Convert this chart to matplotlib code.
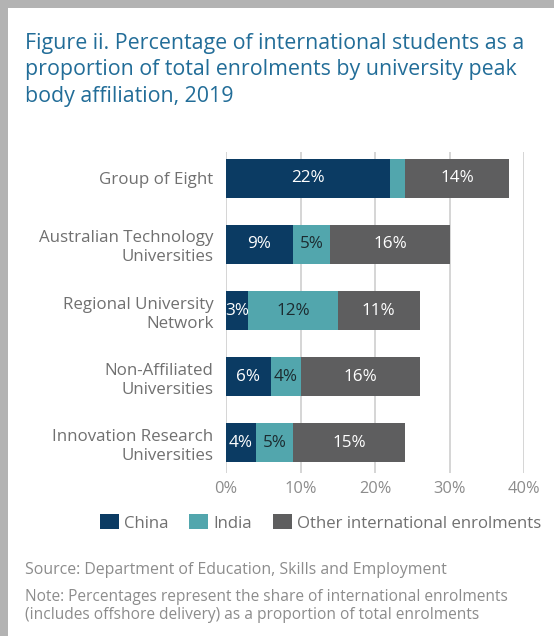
import matplotlib
matplotlib.use("Agg")
import matplotlib.pyplot as plt
from matplotlib.patches import Rectangle
import numpy as np

categories = ["Group of Eight", "Australian Technology\nUniversities", "Regional University\nNetwork",
              "Non-Affiliated\nUniversities", "Innovation Research\nUniversities"]
china = [22, 9, 3, 6, 4]
india = [2, 5, 12, 4, 5]
other = [14, 16, 11, 16, 15]
show_label_china = [True, True, True, True, True]
show_label_india = [False, True, True, True, True]
show_label_other = [True, True, True, True, True]
xticks = [0, 10, 20, 30, 40]
xticklabels = ["0%", "10%", "20%", "30%", "40%"]
series_names = ["China", "India", "Other international enrolments"]

C_CHINA = "#0b3b63"
C_INDIA = "#52a6ad"
C_OTHER = "#5e5e5f"
FONT = "Open Sans"

W, H = 554, 636
fig = plt.figure(figsize=(W / 100, H / 100), dpi=100)
fig.patch.set_facecolor("#b3b3b3")
fig.add_artist(Rectangle((8 / W, 0), 1 - 8 / W, 1 - 8 / H, transform=fig.transFigure,
                         facecolor="white", edgecolor="none", zorder=0))

ax = fig.add_axes([226 / W, 1 - 473 / H, 298 / W, 321 / H])
ax.set_facecolor("none")
y = np.arange(len(categories))
h = 0.59
b1 = ax.barh(y, china, height=h, color=C_CHINA, label=series_names[0], zorder=3)
b2 = ax.barh(y, india, left=china, height=h, color=C_INDIA, label=series_names[1], zorder=3)
left3 = [a + b for a, b in zip(china, india)]
b3 = ax.barh(y, other, left=left3, height=h, color=C_OTHER, label=series_names[2], zorder=3)

def label(bars, vals, lefts, show, color):
    for bar, v, l, s in zip(bars, vals, lefts, show):
        if s:
            ax.text(l + v / 2, bar.get_y() + bar.get_height() / 2, f"{v}%", ha="center", va="center",
                    color=color, fontsize=12.3, family=FONT, zorder=4)

label(b1, china, [0] * 5, show_label_china, "white")
label(b2, india, china, show_label_india, "#1c2b30")
label(b3, other, left3, show_label_other, "white")

ax.set_xlim(0, 40)
ax.set_ylim(4.46, -0.40)
ax.set_xticks(xticks)
ax.set_xticklabels(xticklabels, family=FONT, fontsize=11.8, color="#8c8c8c")
ax.set_yticks(y)
ax.set_yticklabels(categories, family=FONT, fontsize=12.2, color="#707070", linespacing=1.25)
ax.tick_params(axis="both", length=0)
ax.tick_params(axis="x", pad=6)
ax.tick_params(axis="y", pad=9)
ax.grid(axis="x", color="#cacaca", linewidth=1.1, zorder=0)
for s in ax.spines.values():
    s.set_visible(False)

fig.legend(handles=[b1, b2, b3], loc="center right", bbox_to_anchor=(541 / W, 1 - 523 / H),
           ncol=3, frameon=False, prop={"family": FONT, "size": 12.1}, handlelength=1.13,
           handleheight=1.0, handletextpad=0.3, columnspacing=1.25, labelcolor="#707070",
           borderpad=0.0, borderaxespad=0.0)

fig.text(25 / W, 1 - 70 / H, "Figure ii. Percentage of international students as a\nproportion of total enrolments by university peak\nbody affiliation, 2019",
         family=FONT, fontsize=15.4, color="#226d98", va="center", ha="left", linespacing=1.33)
fig.text(25 / W, 1 - 570 / H, "Source: Department of Education, Skills and Employment",
         family=FONT, fontsize=11.4, color="#8c8c8c", va="center", ha="left")
fig.text(25 / W, 1 - 606 / H, "Note: Percentages represent the share of international enrolments\n(includes offshore delivery) as a proportion of total enrolments",
         family=FONT, fontsize=11.2, color="#8c8c8c", va="center", ha="left", linespacing=1.2)

fig.savefig("out.png", dpi=100)
